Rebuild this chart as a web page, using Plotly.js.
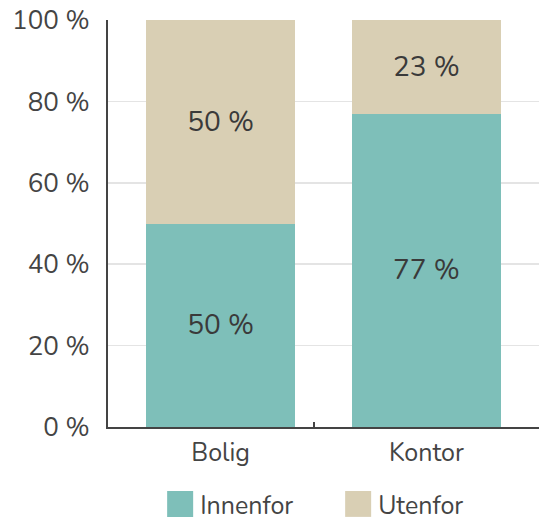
<!DOCTYPE html>
<html><head><meta charset="utf-8">
<script src="https://cdn.plot.ly/plotly-3.0.1.min.js"></script>
<style>html,body{margin:0;padding:0;background:#fff}#c{width:539px;height:517px}</style>
</head><body><div id="c"></div>
<script>
const categories = ["Bolig", "Kontor"];
const innenfor = [50, 77];
const utenfor = [50, 23];
const seriesNames = ["Innenfor", "Utenfor"];
const yTicks = [0, 20, 40, 60, 80, 100];
const yTickLabels = ["0 %", "20 %", "40 %", "60 %", "80 %", "100 %"];

const font = "Nunito, 'Open Sans', sans-serif";
const mk = (name, vals, color) => ({
  type: "bar", name: name, x: categories, y: vals,
  marker: {color: color, line: {width: 0}},
  width: 0.72,
  texttemplate: "%{y} %", textposition: "inside", insidetextanchor: "middle",
  textfont: {family: font, size: 28, color: "#3a3a3a"},
  hoverinfo: "skip"
});
const data = [
  mk(seriesNames[0], innenfor, "#7ebfb9"),
  mk(seriesNames[1], utenfor, "#d9cfb4"),
  {type: "scatter", x: [0.455], y: [0], xaxis: "x2", mode: "markers", marker: {opacity: 0}, showlegend: false, hoverinfo: "skip"}
];
const layout = {
  width: 539, height: 517,
  margin: {l: 108, r: 0, t: 20, b: 90, autoexpand: false},
  barmode: "stack",
  paper_bgcolor: "#fff", plot_bgcolor: "#fff",
  font: {family: font, color: "#444", size: 24},
  xaxis: {
    type: "category", range: [-0.547, 1.547],
    showline: true, linecolor: "#444", linewidth: 2,
    ticks: "", showgrid: false,
    tickfont: {size: 25, color: "#444"},
    ticklabelstandoff: 2
  },
  xaxis2: {
    overlaying: "x", range: [-0.547, 1.547], tickvals: [0.455],
    ticks: "inside", ticklen: 5, tickwidth: 1.5, tickcolor: "#444",
    showticklabels: false, showgrid: false, zeroline: false, showline: false
  },
  yaxis: {
    range: [0, 100], tickvals: yTicks, ticktext: yTickLabels,
    showgrid: true, gridcolor: "#e4e4e4", gridwidth: 1.5,
    showline: true, linecolor: "#444", linewidth: 2,
    zeroline: false, ticks: "", ticklen: 0,
    tickfont: {size: 26, color: "#444"},
    ticklabelstandoff: 11
  },
  legend: {
    orientation: "h", x: 0.534, xanchor: "center", xref: "paper",
    y: -0.133, yanchor: "top",
    font: {size: 25, color: "#444"},
    entrywidth: 133, entrywidthmode: "pixels",
    traceorder: "normal"
  },
  showlegend: true
};
Plotly.newPlot("c", data, layout, {staticPlot: true, displayModeBar: false}).then(gd => {
  gd.querySelectorAll(".legendpoints path").forEach(p => {
    p.setAttribute("d", "M13,13H-13V-13H13Z");
  });
});
</script>
</body></html>
